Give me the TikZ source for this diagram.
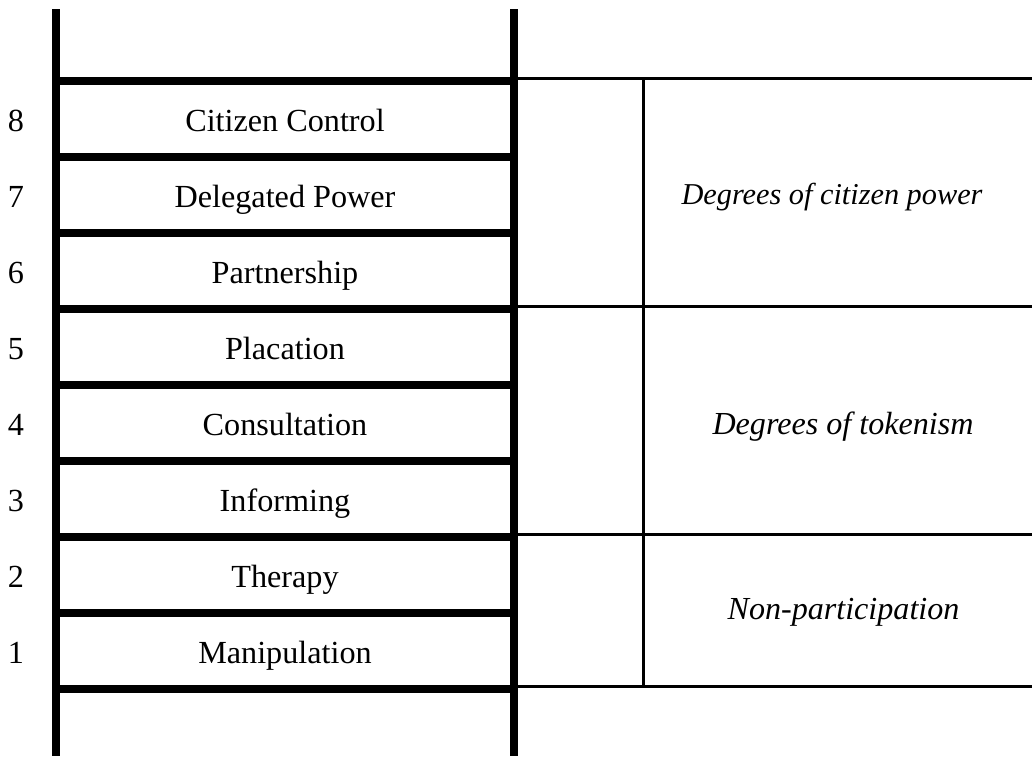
\documentclass[tikz,border=0pt]{standalone}
\usepackage{fontspec}
\setmainfont{Liberation Serif}

\begin{document}
\begin{tikzpicture}[x=1pt, y=-1pt,
    rail/.style={line width=8pt},
    divider/.style={line width=2.7pt},
    rung label/.style={anchor=base, font=\fontsize{32.2}{38}\selectfont},
    group label/.style={anchor=base, font=\fontsize{32.1}{38}\selectfont\itshape}]
  \useasboundingbox (0,0) rectangle (1032,756);
  % ladder
  \draw[rail] (56,9) -- (56,756);
  \draw[rail] (514,9) -- (514,756);
  \foreach \i in {0,...,8}
    \draw[rail] (56,81+76*\i) -- (514,81+76*\i);
  \foreach \k/\txt in {8/Citizen Control, 7/Delegated Power, 6/Partnership,
                       5/Placation, 4/Consultation, 3/Informing,
                       2/Therapy, 1/Manipulation} {
    \pgfmathsetmacro\yb{81+76*(8-\k)+38+12}
    \node[rung label] (n\k) at (16,\yb) {\k};
    \node[rung label] (r\k) at (285,\yb) {\txt};
  }
  % groups
  \foreach \y in {78.5, 306.5, 534.5, 686.5}
    \draw[divider] (514,\y) -- (1032,\y);
  \draw[divider] (643.5,78.5) -- (643.5,686.5);
  \node[group label, font=\fontsize{30.3}{36}\selectfont\itshape] (power) at (832,204) {Degrees of citizen power};
  \node[group label] (token) at (843,434) {Degrees of tokenism};
  \node[group label] (nonpart) at (843.5,619.5) {Non-participation};
\end{tikzpicture}
\end{document}
